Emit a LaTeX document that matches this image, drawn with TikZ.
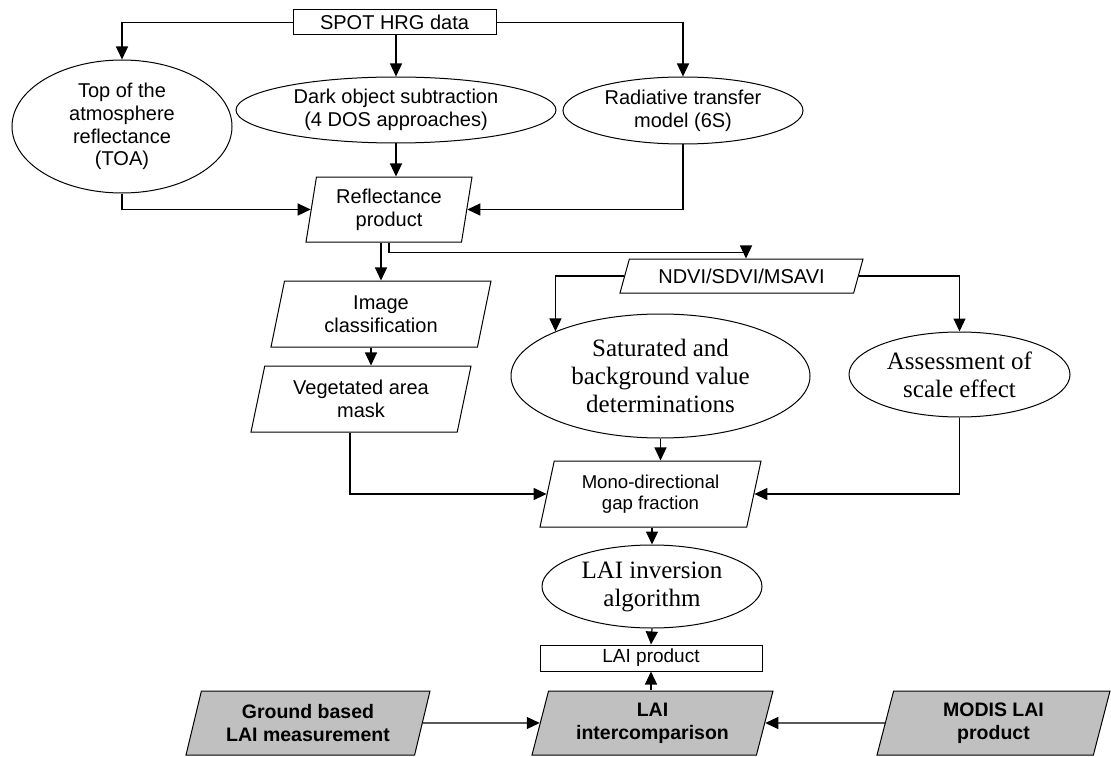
\documentclass[tikz,border=0pt]{standalone}
\usepackage{fontspec}
\setmainfont{Liberation Sans}
\newfontfamily\timesfont{Liberation Serif}
\usetikzlibrary{arrows.meta,shapes.geometric}
\definecolor{boxgray}{RGB}{192,192,192}

\begin{document}
\begin{tikzpicture}[x=1pt, y=-1pt, font=\fontsize{20}{22.7}\selectfont, >={Triangle[length=13pt,width=12pt]},
  plain/.style={draw, line width=1pt, rectangle, inner sep=0pt, align=center},
  oval/.style={draw, line width=1pt, ellipse, inner sep=0pt, align=center},
  serifoval/.style={oval, font=\timesfont\fontsize{25}{28}\selectfont},
  slanted/.style={draw, line width=1pt, trapezium, trapezium left angle=#1, trapezium right angle={180-#1}, trapezium stretches body, inner sep=2pt, align=center},
  grayslant/.style={slanted=#1, fill=boxgray, font=\bfseries\fontsize{19.5}{23.3}\selectfont},
  arrow/.style={->, line width=1.2pt}]
  \useasboundingbox (0,0) rectangle (1111,757);
  \node[plain, minimum width=203pt, minimum height=25pt] (spot) at (394.5,22.5) {SPOT HRG data};
  \node[oval, minimum width=220pt, minimum height=133pt] (toa) at (122,126.5) {Top of the\\atmosphere\\reflectance\\(TOA)};
  \node[oval, minimum width=320pt, minimum height=66pt] (dos) at (396,110) {Dark object subtraction\\(4 DOS approaches)};
  \node[oval, minimum width=240pt, minimum height=67pt] (rtm) at (683,110.5) {Radiative transfer\\model (6S)};
  \node[slanted=77, minimum width=166pt, minimum height=65pt] (refl) at (389,209.5) {Reflectance\\product};
  \node[slanted=71.6, minimum width=220pt, minimum height=66pt] (imgcls) at (381,314) {Image\\classification};
  \node[slanted=71.6, minimum width=220pt, minimum height=66pt] (vegmask) at (361,399) {Vegetated area\\mask};
  \node[slanted=63.4, minimum width=243pt, minimum height=34pt] (vi) at (741.5,276) {NDVI/SDVI/MSAVI};
  \node[serifoval, minimum width=299pt, minimum height=124pt] (satbg) at (660.5,376) {Saturated and\\background value\\determinations};
  \node[serifoval, minimum width=221pt, minimum height=85pt] (scaleeff) at (959.5,374.5) {Assessment of\\scale effect};
  \node[slanted=71.6, minimum width=221pt, minimum height=66pt, font=\fontsize{18.6}{21.5}\selectfont] (gapfr) at (650.5,494) {Mono-directional\\gap fraction};
  \node[serifoval, minimum width=220pt, minimum height=83pt] (inversion) at (652,586.5) {LAI inversion\\algorithm};
  \node[plain, minimum width=222pt, minimum height=26pt, font=\fontsize{19}{21}\selectfont] (laiprod) at (651,658) {LAI product};
  \node[grayslant=69.7, minimum width=244pt, minimum height=64pt] (ground) at (308,723) {Ground based\\LAI measurement};
  \node[grayslant=69.7, minimum width=241pt, minimum height=64pt] (compare) at (652.5,723) {LAI\\intercomparison};
  \node[grayslant=69.7, minimum width=233pt, minimum height=64pt] (modis) at (993.5,723) {MODIS LAI\\product};
  \draw[arrow] (spot.west) -| (toa.north);
  \draw[arrow] (spot.east) -| (rtm.north);
  \draw[arrow] (dos.north |- spot.south) -- (dos.north);
  \draw[arrow] (toa.south) |- (refl.west);
  \draw[arrow] (rtm.south) |- (refl.east);
  \draw[arrow] (dos.south) -- (dos.south |- refl.north);
  \draw[arrow] (imgcls.center |- refl.south) -- (imgcls.center |- imgcls.north);
  \draw[arrow] (refl.center |- refl.south) -- ++(0,10) -| ([xshift=4.5pt]vi.center |- vi.north);
  \draw[arrow] ([xshift=-10pt]imgcls.center |- imgcls.south) -- ([xshift=-10pt]imgcls.center |- vegmask.north);
  \draw[arrow] ([xshift=-11pt]vegmask.center |- vegmask.south) |- (gapfr.west);
  \draw[arrow] (vi.west) -| (satbg.157);
  \draw[arrow] (vi.east) -| (scaleeff.north);
  \draw[arrow] (satbg.south) -- (satbg.south |- gapfr.north);
  \draw[arrow] (scaleeff.south) |- (gapfr.east);
  \draw[arrow] (inversion.north |- gapfr.south) -- (inversion.north);
  \draw[arrow] (inversion.south) -- (laiprod.north);
  \draw[arrow] (laiprod.south |- compare.north) -- (laiprod.south);
  \draw[arrow] (ground.east) -- (compare.west);
  \draw[arrow] (modis.west) -- (compare.east);
\end{tikzpicture}
\end{document}
